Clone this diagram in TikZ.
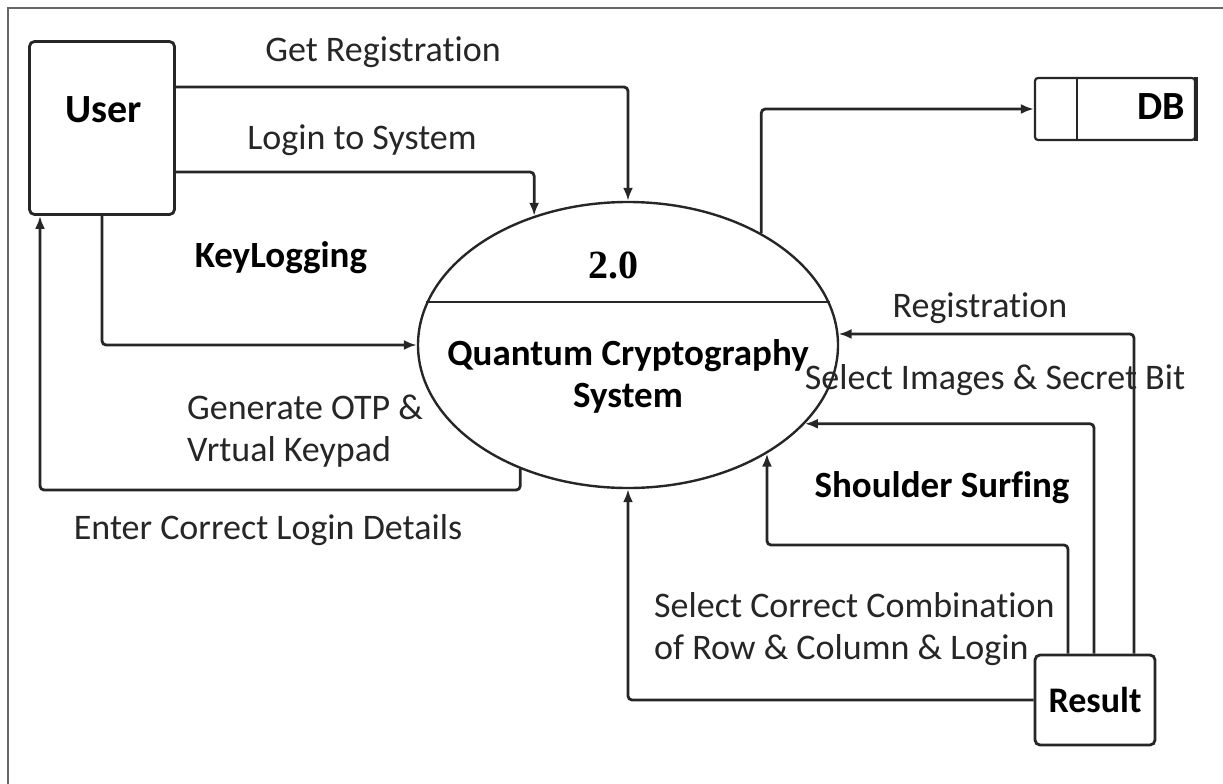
\documentclass[tikz,border=0pt]{standalone}
\usepackage{fontspec}
\setmainfont{Carlito}[Ligatures=NoCommon]
\newfontfamily\numfont{Liberation Serif}
\usetikzlibrary{arrows.meta,positioning,calc,shapes.geometric}
\tikzset{
  box/.style={draw=black!85, line width=2.8pt, rounded corners=5pt, align=center, fill=white,
    minimum width=145pt, minimum height=173pt},
  proc/.style={ellipse, draw=black!85, line width=2.4pt, minimum width=420pt, minimum height=286pt, inner sep=0pt},
  store/.style={draw=black!85, line width=2.2pt, rounded corners=3pt, minimum width=160pt, minimum height=62pt},
  arr/.style={-{Latex[length=13pt,width=10pt]}, line width=2.8pt, draw=black!85, rounded corners=4pt},
  note/.style={font=\fontsize{36}{42}\selectfont, text=black!85, align=center, inner sep=0pt},
  bnote/.style={note, font=\fontsize{37}{42}\selectfont\bfseries, text=black}}
\begin{document}
\begin{tikzpicture}[x=1pt, y=-1pt]
  \useasboundingbox (0,0) rectangle (1223,784);
  \draw[black!60, line width=1.5pt] (8,784) -- (8,8) -- (1223,8);
  % entities and the process
  \node[box] (user) at (102,128) {};
  \node[bnote, font=\fontsize{40}{48}\selectfont\bfseries] (userl) at (104,110) {User};
  \node[proc] (sys) at (628,345) {};
  \node[font=\numfont\fontsize{40}{48}\selectfont\bfseries] (num) at (613,265) {2.0};
  \node[bnote] (title) at (628,376) {Quantum Cryptography\\System};
  \node[store] (db) at (1115,109) {};
  \node[bnote, font=\fontsize{40}{48}\selectfont\bfseries, anchor=east] (dbl) at (1185,107) {DB};
  \node[box, minimum width=120pt, minimum height=90pt, font=\fontsize{36}{42}\selectfont\bfseries] (result) at (1095,700) {Result};
  \draw[line width=2.4pt, black!85] (sys.168) -- (sys.12);
  \draw[line width=2.2pt, black!85] ($(db.north west)+(43,0)$) -- ($(db.south west)+(43,0)$);
  \draw[line width=4pt, black!85] (db.north east) -- (db.south east);
  % flow labels
  \node[note] (lgr) at (383,52) {Get Registration};
  \node[note] (llog) at (362,140) {Login to System};
  \node[bnote] (lkey) at (281,258) {KeyLogging};
  \node[note, align=left, anchor=west] (lotp) at (187,431) {Generate OTP \&\\Vrtual Keypad};
  \node[note] (lent) at (268,530) {Enter Correct Login Details};
  \node[note] (lreg) at (980,308) {Registration};
  \node[note] (lsel) at (995,380) {Select Images \& Secret Bit};
  \node[bnote] (lsh) at (942,488) {Shoulder Surfing};
  \node[note, align=left, anchor=west] (lcomb) at (654,629) {Select Correct Combination\\of Row \& Column \& Login};
  % flows
  \draw[arr] (user.east |- 0,87) -| (sys.north);
  \draw[arr] (user.east |- 0,172) -| (sys.126);
  \draw[arr] (user.south) |- (sys.west);
  \draw[arr] (sys.229) |- (40,490) -- (user.south -| 40,0);
  \draw[arr] (sys.40) |- (db.west);
  \draw[arr] (result.north -| 1134,0) |- (sys.3);
  \draw[arr] (result.north -| 1094,0) |- (sys.336);
  \draw[arr] (result.north -| 1068,0) |- (sys.322 |- 0,545) -- (sys.322);
  \draw[arr] (result.west) -| (sys.south);
\end{tikzpicture}
\end{document}
